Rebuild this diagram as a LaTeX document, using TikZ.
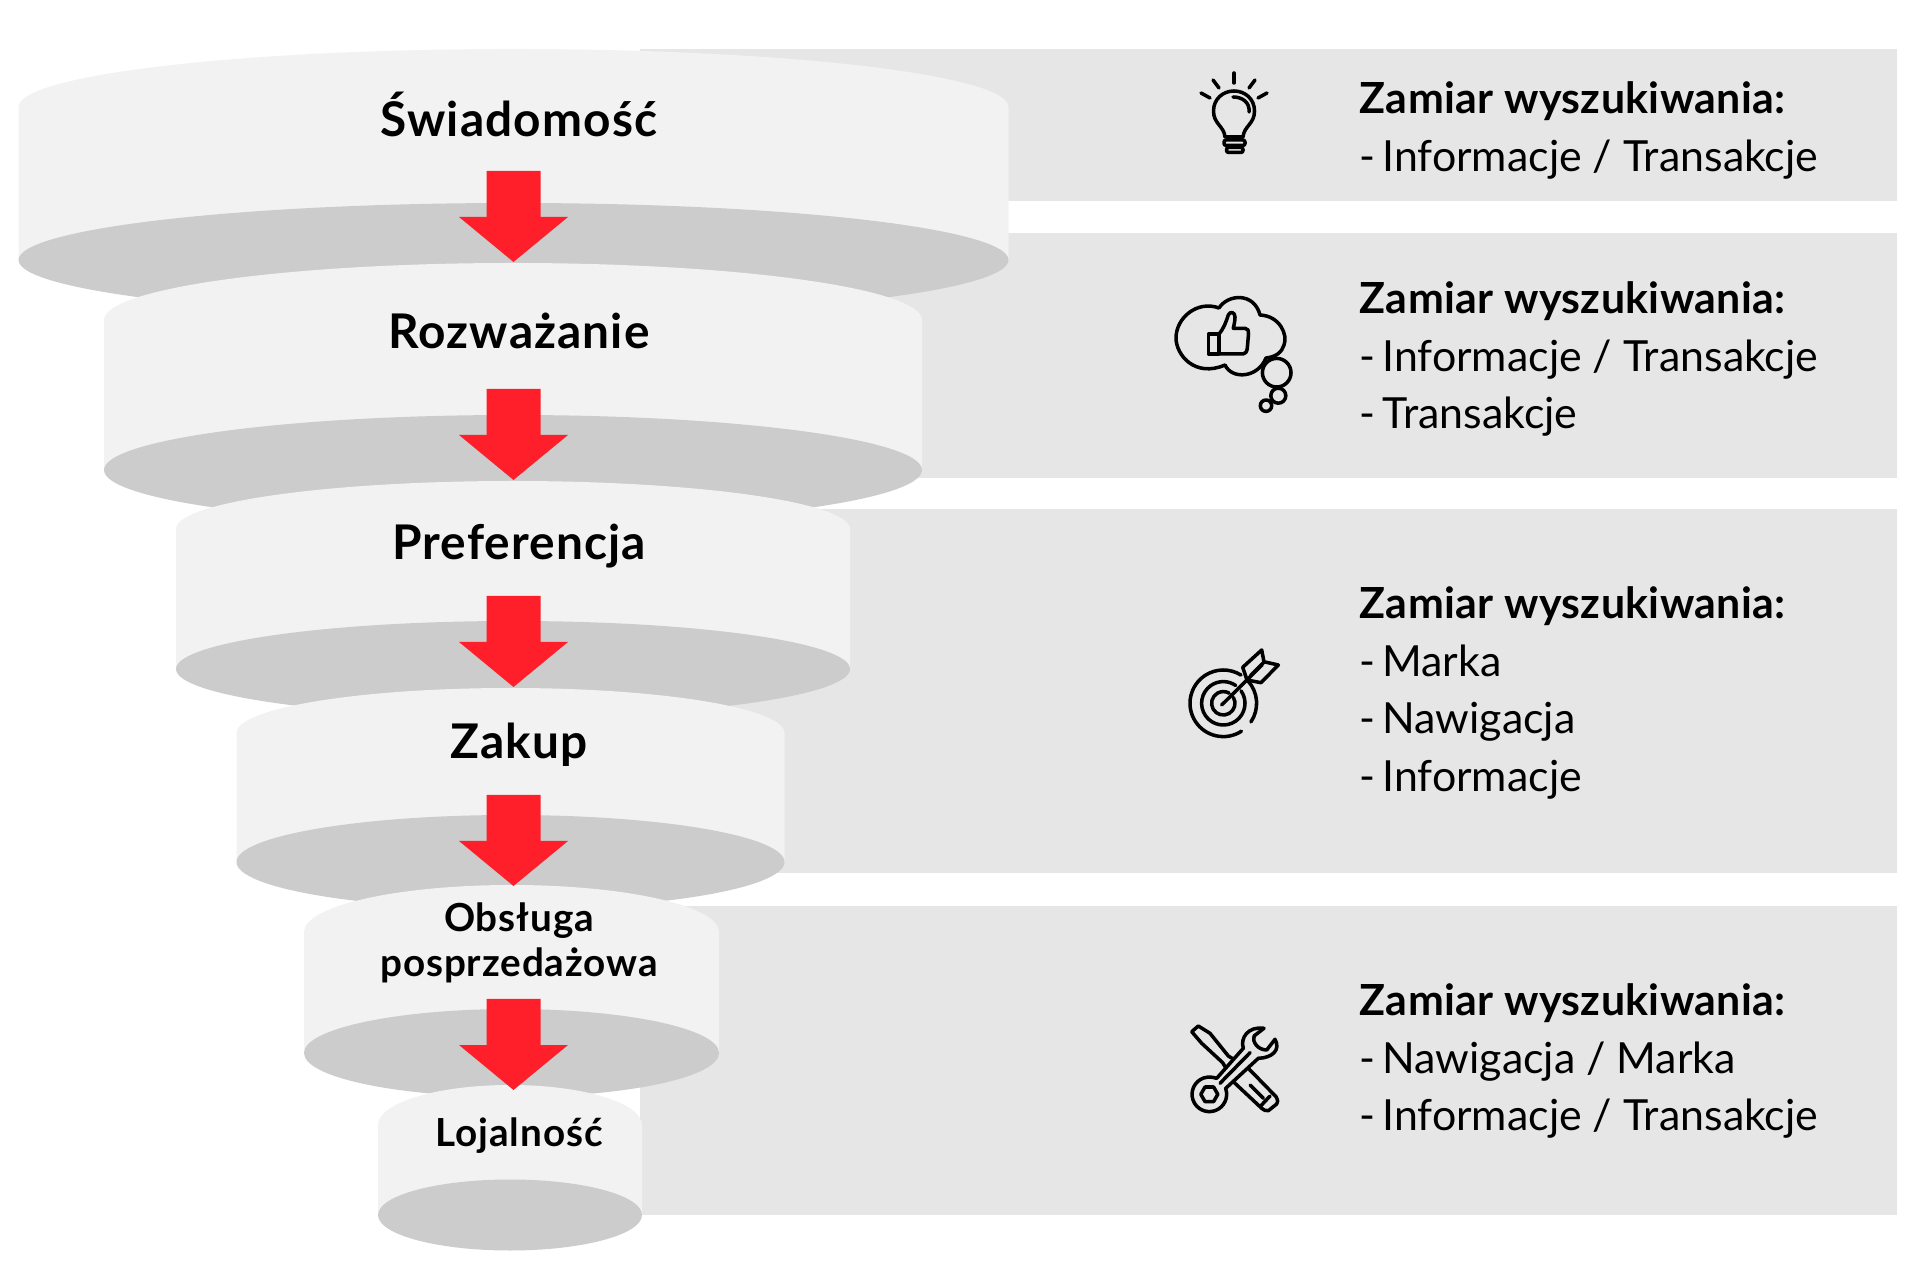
\documentclass[tikz,border=0pt]{standalone}
\usepackage{fontspec}
\setmainfont{Lato}
\newfontfamily\tierfamily[LetterSpace=2.3]{Lato}
\newfontfamily\headfamily[LetterSpace=0.8]{Lato}
\definecolor{bandgray}{HTML}{E6E6E6}
\definecolor{sidegray}{HTML}{F2F2F2}
\definecolor{floorgray}{HTML}{CCCCCC}
\definecolor{arrowred}{HTML}{FF1F2B}
\newcommand{\intenthead}{{\headfamily\bfseries Zamiar wyszukiwania:}}
\newcommand{\intentline}[1]{-\hspace{-1.2pt} #1}
\tikzset{
  band/.style={fill=bandgray},
  tier/.style={font=\fontsize{13.6}{12.8}\selectfont\tierfamily\bfseries, align=center, inner sep=0pt, anchor=base},
  smalltier/.style={tier, font=\fontsize{11}{12.8}\selectfont\tierfamily\bfseries},
  intent/.style={font=\fontsize{12.2}{16.4}\selectfont, align=left, inner sep=0pt, anchor=north west},
  icon/.style={line width=1pt, line cap=round, line join=round}
}
\begin{document}
\begin{tikzpicture}[x=1mm, y=1mm, xscale=0.1, yscale=-0.1]
    \useasboundingbox (0, 0) rectangle (1920, 1280);
    % bands behind the funnel
    \foreach \ya/\yb in {49/201, 233/478, 509/873, 906/1215} {
      \fill [band] (640, \ya) rectangle (1897, \yb);
    }
    % funnel tiers
    \foreach \cx/\rx/\yt/\rt/\yb/\rb in {513.5/495/107/58/260/57, 513/409/320/57/470/55,
        513/337/529/48/669/48, 510.5/274/733/45/862/47, 511.5/207.5/932/47/1053/44, 510/132/1125/40/1215/35.5} {
      \fill [sidegray] (\cx-\rx, \yt) arc [start angle=180, end angle=360, x radius=\rx, y radius=\rt]
        -- (\cx+\rx, \yb) -- (\cx-\rx, \yb) -- cycle;
      \fill [floorgray] (\cx, \yb) ellipse [x radius=\rx, y radius=\rb];
    }
    % red arrows
    \foreach \ya in {171, 389, 596, 795, 999} {
      \fill [arrowred] (486.5, \ya) -- (540.5, \ya) -- (540.5, \ya+46) -- (568, \ya+46)
        -- (513.5, \ya+91) -- (459, \ya+46) -- (486.5, \ya+46) -- cycle;
    }

    \node [tier] (swiadomosc) at (519, 136.5) {Świadomość};
    \node [tier] (rozwazanie) at (519, 348.5) {Rozważanie};
    \node [tier] (preferencja) at (519, 559.5) {Preferencja};
    \node [tier] (zakup) at (519, 758.5) {Zakup};
    \node [smalltier] (obsluga) at (519, 931.5) {Obsługa};
    \node [smalltier] (posprzedazowa) at (519, 976.5) {posprzedażowa};
    \node [smalltier] (lojalnosc) at (519, 1146) {Lojalność};

    \node [intent] (intent1) at (1359, 81) {\intenthead\\\intentline{Informacje / Transakcje}};
    \node [intent] (intent2) at (1359, 281) {\intenthead\\\intentline{Informacje / Transakcje}\\\intentline{Transakcje}};
    \node [intent] (intent3) at (1359, 586) {\intenthead\\\intentline{Marka}\\\intentline{Nawigacja}\\\intentline{Informacje}};
    \node [intent] (intent4) at (1359, 983) {\intenthead\\\intentline{Nawigacja / Marka}\\\intentline{Informacje / Transakcje}};

    % bulb
    \begin{scope}[icon]
      \draw (1234, 73) -- (1234, 83);
      \draw (1213, 80) -- (1219, 88);
      \draw (1255, 80) -- (1249, 88);
      \draw (1201, 93) -- (1210, 98);
      \draw (1267, 93) -- (1258, 98);
      \draw (1225, 137) .. controls (1224, 126) and (1213.5, 124) .. (1213.5, 111)
        .. controls (1213.5, 99) and (1223, 91) .. (1234, 91)
        .. controls (1245, 91) and (1254.5, 99) .. (1254.5, 111)
        .. controls (1254.5, 124) and (1244, 126) .. (1243, 137) -- cycle;
      \draw (1233, 97) .. controls (1243, 97) and (1250, 103) .. (1249, 112);
      \draw [rounded corners=0.6pt] (1224, 140) rectangle (1245, 145.5);
      \draw [rounded corners=0.6pt] (1226.5, 147.5) rectangle (1243, 152.5);
    \end{scope}

    % thought cloud with thumb
    \begin{scope}[icon]
      \draw (1219, 308) .. controls (1228, 294) and (1254, 292) .. (1260, 315)
        .. controls (1280, 316) and (1288, 335) .. (1284, 345)
        .. controls (1282, 352) and (1276, 357) .. (1266, 358)
        .. controls (1258, 378) and (1232, 380) .. (1225, 365)
        .. controls (1195, 378) and (1176, 355) .. (1176, 338)
        .. controls (1176, 318) and (1197, 300) .. (1219, 308);
      \draw (1276.7, 372.7) circle (14.3);
      \draw (1278.3, 395.7) circle (7.5);
      \draw (1266, 405.7) circle (5.7);
      \draw (1219, 334) -- (1208.5, 334) -- (1208.5, 354) -- (1219, 354) -- cycle;
      \draw (1219, 334) .. controls (1224, 328) and (1226, 322) .. (1228.3, 315)
        .. controls (1230, 311) and (1235, 312) .. (1235, 317)
        .. controls (1235, 321) and (1234, 325) .. (1233.3, 328.3)
        -- (1245, 328.3) .. controls (1248, 328.3) and (1249, 331) .. (1248.5, 334)
        -- (1247.3, 348) .. controls (1247, 352) and (1245, 354) .. (1243, 354) -- (1219, 354);
    \end{scope}

    % target with arrow
    \begin{scope}[icon]
      \draw (1223.3, 703.3) ++(57:33.3) arc [start angle=57, end angle=302, radius=33.3];
      \draw (1223.3, 703.3) ++(318:33.3) arc [start angle=318, end angle=394, radius=33.3];
      \draw (1223.3, 703.3) ++(325:21.7) arc [start angle=325, end angle=665, radius=21.7];
      \draw (1223.3, 703.3) ++(330:11.7) arc [start angle=330, end angle=660, radius=11.7];
      \draw (1221.7, 705) -- (1262, 665);
      \draw (1247, 680) -- (1242.7, 667.3) -- (1261.7, 650) -- (1264, 662) -- (1250.5, 675.5);
      \draw (1247, 680) -- (1261, 682.7) -- (1278.3, 665) -- (1265, 662);
    \end{scope}

    % crossed screwdriver and spanner
    \begin{scope}[icon]
      \draw (1191.7, 1031.7) -- (1198.3, 1026) -- (1210, 1033.3) -- (1228.3, 1056) -- (1248.3, 1068.3)
        -- (1276, 1096.7) .. controls (1278, 1100) and (1278, 1103) .. (1276.7, 1104)
        -- (1268.3, 1110.7) .. controls (1266, 1111) and (1263, 1110) .. (1261.7, 1108.3)
        -- (1235, 1083.3) -- (1222.7, 1062.7) -- (1201.7, 1043.3) -- cycle;
      \draw (1260, 1106.7) -- (1270, 1096);
      \draw (1250, 1085) -- (1263.3, 1098.3);
      \draw [fill=bandgray] (1216.7, 1078.3) -- (1243.3, 1048.3)
        .. controls (1240, 1038) and (1248, 1026) .. (1264, 1028.3)
        -- (1254, 1036) .. controls (1252, 1042) and (1258, 1050) .. (1266.7, 1050)
        -- (1275, 1039.3) .. controls (1281, 1050) and (1272, 1058) .. (1258.3, 1058.3)
        -- (1225.6, 1088.4) arc [start angle=-20, end angle=280, radius=17.3] -- cycle;
      \draw (1220, 1083.3) -- (1250, 1052.7);
      \draw (1200.8, 1094.3) -- (1205, 1087) -- (1213.6, 1087) -- (1217.8, 1094.3)
        -- (1213.6, 1101.6) -- (1205, 1101.6) -- cycle;
    \end{scope}
\end{tikzpicture}
\end{document}
